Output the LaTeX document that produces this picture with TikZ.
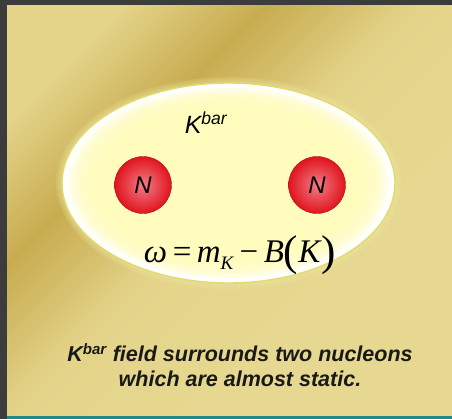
\documentclass[tikz,border=0pt]{standalone}
\usepackage{fontspec}
\newfontfamily\arialfont{Liberation Sans}
\newfontfamily\timesfont{Liberation Serif}
\usetikzlibrary{positioning, calc, shapes.geometric}

\definecolor{frameGray}{HTML}{3C3C3C}
\definecolor{stripTeal}{HTML}{1F8A86}
\definecolor{goldA}{HTML}{E4D48A}
\definecolor{goldB}{HTML}{C8AC50}
\definecolor{goldC}{HTML}{E6D890}
\definecolor{fieldYellow}{HTML}{FFFCB2}
\definecolor{rimYellow}{HTML}{E4DA6A}
\definecolor{ballIn}{HTML}{F27C86}
\definecolor{ballOut}{HTML}{E0141E}

\pgfdeclarehorizontalshading{goldsheen}{100bp}{%
  color(0bp)=(goldA); color(24bp)=(goldA); color(36bp)=(goldB);
  color(49bp)=(goldA); color(64bp)=(goldC); color(100bp)=(goldC)}

\newcommand{\bigpar}[1]{\raisebox{-3pt}{\fontsize{43}{43}\selectfont#1}}

\begin{document}
\begin{tikzpicture}[x=1pt, y=-1pt,
  %% nuvem do campo Kbar
  field/.style={
    ellipse, minimum width=333pt, minimum height=200pt,
    inner sep=0pt, fill=white, draw=rimYellow, line width=1.4pt
  },
  %% nucleons
  nucleon/.style={
    circle, minimum size=57pt, inner sep=0pt,
    inner color=ballIn, outer color=ballOut, draw=ballOut!80!black, line width=0.4pt,
    font=\arialfont\itshape\fontsize{24}{24}\selectfont
  },
  %% textos
  lbl/.style={font=\arialfont\itshape\fontsize{25}{25}\selectfont, inner sep=0pt},
  formula/.style={font=\timesfont\fontsize{33}{33}\selectfont, inner sep=0pt},
  caption/.style={font=\arialfont\bfseries\itshape\fontsize{21.5}{25}\selectfont,
    text=black!90, align=center, inner sep=0pt}
]
\useasboundingbox (0,0) rectangle (452,419);

%% ================================================================
%% FUNDO
%% ================================================================
\fill[frameGray] (0,0) rectangle (452,419);
\shade[shading=goldsheen, shading angle=-45] (7,6) rectangle (452,416);
\fill[stripTeal] (7,416) rectangle (452,419);

%% ================================================================
%% CAMPO
%% ================================================================
\foreach \g in {6,4,2}
  \fill[rimYellow!60!white, opacity=0.18] (228.5,183)
    ellipse [x radius={166.5pt+\g pt}, y radius={100pt+\g pt}];
\node[field] (kfield) at (228.5,183) {};
%% brilho branco junto da borda
\foreach \d in {6,9,12,15,18,22,26,30}
  \fill[fieldYellow, opacity=0.2] (kfield.center)
    ellipse [x radius={166.5pt-\d pt}, y radius={100pt-0.7*\d pt}];

\node[lbl] (kbar) at (206,123) {K\textsuperscript{bar}};

%% ================================================================
%% NUCLEONS
%% ================================================================
\node[nucleon] (nleft) at (143,185) {N};
\node[nucleon] (nright) at (317,185) {N};

\node[formula] (omega) at (240,255) {%
  \textit{ω}\,=\,\textit{m}\raisebox{-7pt}{\fontsize{19}{19}\selectfont\textit{K}}\,−\,%
  \textit{B}\bigpar{(}\textit{K}\bigpar{)}};

%% ================================================================
%% LEGENDA
%% ================================================================
\node[caption] (note) at (240,365) {%
  K\textsuperscript{bar} field surrounds two nucleons\\
  which are almost static.};

\end{tikzpicture}
\end{document}
